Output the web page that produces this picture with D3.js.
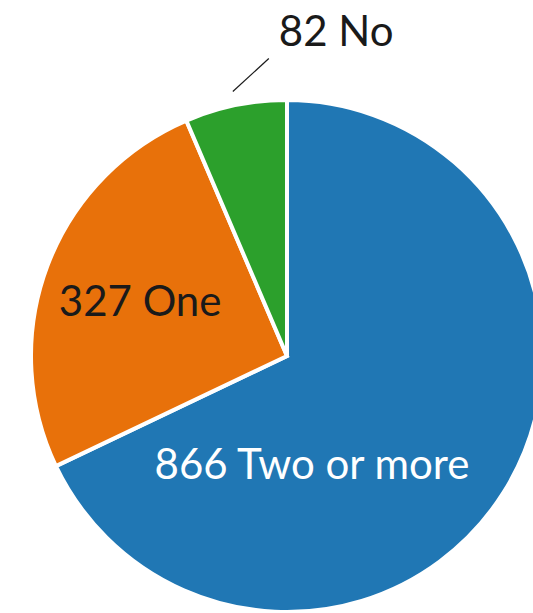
<!DOCTYPE html>
<html><head><meta charset="utf-8">
<script src="https://cdn.jsdelivr.net/npm/d3@7"></script>
<style>html,body{margin:0;padding:0;background:#fff;overflow:hidden}</style>
</head><body>
<svg id="c" width="533" height="613"></svg>
<script>
const categories = ["Two or more", "One", "No"];
const values = [866, 327, 82];
const colors = ["#2077b4", "#e8710a", "#2ca02c"];

const W = 533, H = 613, cx = 287, cy = 356, R = 256;
const svg = d3.select("#c");
const g = svg.append("g").attr("transform", `translate(${cx},${cy})`);

const pie = d3.pie().sort(null).value(d => d.v);
const data = categories.map((c, i) => ({c, v: values[i], col: colors[i]}));
const arcs = pie(data);
const arc = d3.arc().innerRadius(0).outerRadius(R);

g.selectAll("path").data(arcs).join("path")
  .attr("d", arc)
  .attr("fill", d => d.data.col)
  .attr("stroke", "#fff")
  .attr("stroke-width", 4)
  .attr("stroke-linejoin", "miter");

const font = "Lato, 'Open Sans', sans-serif";
const fs = 42;

// Blue label
const blue = arcs[0];
g.append("text").attr("x", 25).attr("y", 123)
  .attr("text-anchor", "middle").attr("font-family", font).attr("font-size", fs)
  .attr("fill", "#fff").text(`${blue.data.v} ${blue.data.c}`);

// Orange label at centroid of label arc
const orange = arcs[1];
const lblArc = d3.arc().innerRadius(157).outerRadius(157);
const oc = lblArc.centroid(orange);
g.append("text").attr("x", oc[0]).attr("y", oc[1] + 15)
  .attr("text-anchor", "middle").attr("font-family", font).attr("font-size", fs)
  .attr("fill", "#1a1a1a").text(`${orange.data.v} ${orange.data.c}`);

// Green label outside with leader line
const green = arcs[2];
const mid = (green.startAngle + green.endAngle) / 2;
const p0 = [Math.sin(mid) * 270, -Math.cos(mid) * 270];
const p1 = [p0[0] + 36, p0[1] - 33];
g.append("line").attr("x1", p0[0]).attr("y1", p0[1]).attr("x2", p1[0]).attr("y2", p1[1])
  .attr("stroke", "#1a1a1a").attr("stroke-width", 1.2);
g.append("text").attr("x", p1[0] + 10).attr("y", p1[1] - 13)
  .attr("text-anchor", "start").attr("font-family", font).attr("font-size", fs)
  .attr("fill", "#1a1a1a").text(`${green.data.v} ${green.data.c}`);
</script>
</body></html>
